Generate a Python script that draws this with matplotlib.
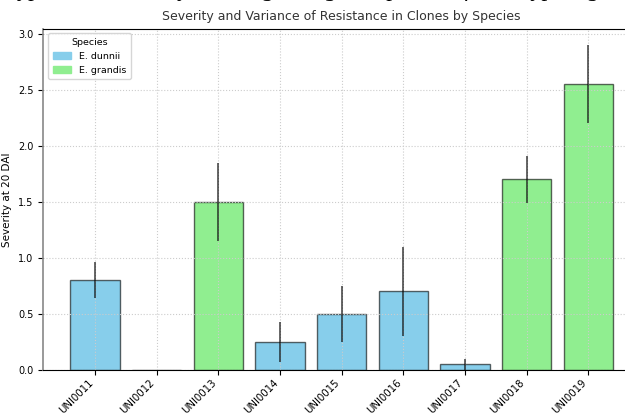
import numpy as np
import matplotlib.pyplot as plt
from matplotlib.patches import Patch

clones = ['UNI0011', 'UNI0012', 'UNI0013', 'UNI0014', 'UNI0015',
          'UNI0016', 'UNI0017', 'UNI0018', 'UNI0019']
species = ['E. dunnii', 'E. dunnii', 'E. grandis', 'E. dunnii', 'E. dunnii',
           'E. dunnii', 'E. dunnii', 'E. grandis', 'E. grandis']
severity = [0.80, 0.0, 1.50, 0.25, 0.50, 0.70, 0.05, 1.70, 2.55]
spread = [0.16, 0.0, 0.35, 0.18, 0.25, 0.40, 0.05, 0.21, 0.35]

palette = {'E. dunnii': 'skyblue', 'E. grandis': 'lightgreen'}
colors = [palette[s] for s in species]

fig = plt.figure(figsize=(6.25, 4.16), dpi=100)
ax = fig.add_axes([0.069, 0.111, 0.955, 0.820])

x = np.arange(len(clones))
ax.bar(x, severity, width=0.8, color=colors,
       edgecolor=(0, 0, 0, 0.6), linewidth=1.0)
ax.errorbar(x, severity, yerr=spread, fmt='none', ecolor='black',
            elinewidth=1.2, alpha=0.7, capsize=0)

ax.set_xticks(x)
ax.set_xticklabels(clones, rotation=45, ha='right', fontsize=7.3)
ax.tick_params(axis='y', labelsize=7)
ax.tick_params(axis='x', pad=2)
ax.set_xlabel('Clone', fontsize=7.5, labelpad=1)
ax.set_ylabel('Severity at 20 DAI', fontsize=7.5)
ax.set_title('Severity and Variance of Resistance in Clones by Species',
             fontsize=9, color='#333333', pad=6)
ax.grid(True, linestyle=':', color='#cccccc', linewidth=0.8)
ax.spines['left'].set_color('#888888')
ax.spines['left'].set_linewidth(1.2)

handles = [Patch(color=palette[k], label=k) for k in palette]
ax.legend(handles=handles, title='Species', loc='upper left',
          fontsize=6.8, title_fontsize=6.8, framealpha=0.8,
          borderpad=0.5, handlelength=2.0)

fig.text(0.5, 1.024,
         'Eucalyptus and their hybrids regarding the species of Eucalyptus grandis',
         ha='center', va='center', fontsize=17, style='italic',
         family='Liberation Serif')

fig.savefig('out.png', dpi=100)
